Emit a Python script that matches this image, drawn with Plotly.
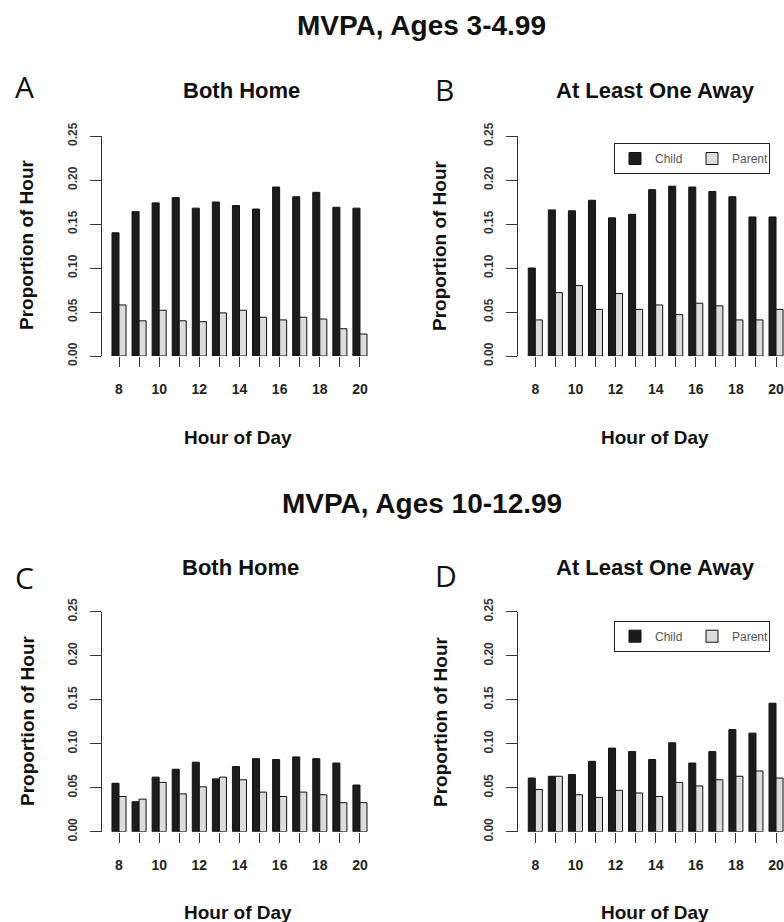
import plotly.graph_objects as go

HOURS = list(range(8, 21))
HOUR_LABELS = [str(h) if h % 2 == 0 else "" for h in HOURS]
Y_TICKS = [0.0, 0.05, 0.10, 0.15, 0.20, 0.25]

# Panel A: Ages 3-4.99, Both Home
A_CHILD = [0.140, 0.164, 0.174, 0.180, 0.168, 0.175, 0.171, 0.167, 0.192, 0.181, 0.186, 0.169, 0.168]
A_PARENT = [0.058, 0.040, 0.052, 0.040, 0.039, 0.049, 0.052, 0.044, 0.041, 0.044, 0.042, 0.031, 0.025]
# Panel B: Ages 3-4.99, At Least One Away
B_CHILD = [0.100, 0.166, 0.165, 0.177, 0.157, 0.161, 0.189, 0.193, 0.192, 0.187, 0.181, 0.158, 0.158]
B_PARENT = [0.041, 0.072, 0.080, 0.053, 0.071, 0.053, 0.058, 0.047, 0.060, 0.057, 0.041, 0.041, 0.053]
# Panel C: Ages 10-12.99, Both Home
C_CHILD = [0.055, 0.034, 0.062, 0.071, 0.079, 0.060, 0.074, 0.083, 0.082, 0.085, 0.083, 0.078, 0.053]
C_PARENT = [0.040, 0.037, 0.056, 0.043, 0.051, 0.062, 0.059, 0.045, 0.040, 0.045, 0.042, 0.033, 0.033]
# Panel D: Ages 10-12.99, At Least One Away
D_CHILD = [0.061, 0.063, 0.065, 0.080, 0.095, 0.091, 0.082, 0.101, 0.078, 0.091, 0.116, 0.112, 0.146]
D_PARENT = [0.048, 0.063, 0.042, 0.039, 0.047, 0.044, 0.040, 0.056, 0.052, 0.059, 0.063, 0.069, 0.061]

SERIES_NAMES = ["Child", "Parent"]
ROW_TITLES = ["MVPA, Ages 3-4.99", "MVPA, Ages 10-12.99"]
PANEL_TITLES = ["Both Home", "At Least One Away", "Both Home", "At Least One Away"]
PANEL_LETTERS = ["A", "B", "C", "D"]

W, H = 784, 922
FONT = "Liberation Sans, Arial, sans-serif"
CHILD_COLOR = "#1c1c1c"
PARENT_COLOR = "#dcdcdc"

def px(x):
    return x / W

def py(y):
    return 1 - y / H

fig = go.Figure()

panels = [
    (A_CHILD, A_PARENT, "x", "y", None),
    (B_CHILD, B_PARENT, "x2", "y2", "legend"),
    (C_CHILD, C_PARENT, "x3", "y3", None),
    (D_CHILD, D_PARENT, "x4", "y4", "legend2"),
]
for child, parent, xa, ya, leg in panels:
    for vals, name, col in [(child, SERIES_NAMES[0], CHILD_COLOR), (parent, SERIES_NAMES[1], PARENT_COLOR)]:
        fig.add_trace(go.Bar(
            x=HOURS, y=vals, name=name, xaxis=xa, yaxis=ya,
            marker=dict(color=col, line=dict(color="#111111", width=1)),
            offsetgroup=name, showlegend=leg is not None,
            legend=leg if leg else "legend",
        ))

# geometry (reference pixels)
left_dom = (102, 382)
right_dom = (518, 784)
top_dom = (136, 356)
bot_dom = (611.7, 831.7)
left_range = [8 - 17 / 20.08, 8 + (382 - 119) / 20.08]
right_range = [8 - (535.3 - 518) / 20.06, 8 + (784 - 535.3) / 20.06]

def xaxis(dom, rng):
    return dict(domain=[px(dom[0]), min(1, px(dom[1]))], range=rng, showline=False, showgrid=False,
                zeroline=False, ticks="outside", ticklen=10, tickwidth=1, tickcolor="#333",
                tickvals=HOURS, ticktext=HOUR_LABELS, ticklabelstandoff=10,
                ticklabeloverflow="allow",
                tickfont=dict(family=FONT, size=14, color="#222", weight="bold"))

def yaxis(dom, anchor):
    return dict(domain=[py(dom[1]), py(dom[0])], range=[0, 0.25], showline=True, linecolor="#333",
                linewidth=1, showgrid=False, zeroline=False, ticks="outside", ticklen=11,
                tickwidth=1, tickcolor="#333", tickvals=Y_TICKS, tickformat=".2f",
                tickangle=-90, ticklabelstandoff=8, anchor=anchor,
                tickfont=dict(family=FONT, size=12, color="#333", weight="bold"))

def legend(ytop):
    return dict(x=px(614), y=py(ytop), xanchor="left", yanchor="top", orientation="h",
                bordercolor="#222", borderwidth=1, bgcolor="white", entrywidth=32,
                entrywidthmode="pixels", font=dict(family=FONT, size=12, color="#555"),
                traceorder="normal")

fig.update_layout(
    width=W, height=H, autosize=False,
    margin=dict(l=0, r=0, t=0, b=0, autoexpand=False),
    paper_bgcolor="white", plot_bgcolor="white",
    barmode="group", bargap=0.3, bargroupgap=0,
    xaxis=dict(**xaxis(left_dom, left_range), anchor="y"),
    yaxis=yaxis(top_dom, "x"),
    xaxis2=dict(**xaxis(right_dom, right_range), anchor="y2"),
    yaxis2=yaxis(top_dom, "x2"),
    xaxis3=dict(**xaxis(left_dom, left_range), anchor="y3"),
    yaxis3=yaxis(bot_dom, "x3"),
    xaxis4=dict(**xaxis(right_dom, right_range), anchor="y4"),
    yaxis4=yaxis(bot_dom, "x4"),
    legend=legend(143),
    legend2=legend(620.7),
)

ann = []
def text(x, y, t, size, bold=True, angle=0, family=FONT):
    ann.append(dict(x=px(x), y=py(y), xref="paper", yref="paper", text=f"<b>{t}</b>" if bold else t,
                    showarrow=False, xanchor="center", yanchor="middle", textangle=angle,
                    font=dict(family=family, size=size, color="#111")))

text(422, 26, ROW_TITLES[0], 28)
text(422, 504, ROW_TITLES[1], 28)
text(24, 87, PANEL_LETTERS[0], 30, bold=False, family="Open Sans, sans-serif")
text(444, 89, PANEL_LETTERS[1], 30, bold=False, family="Open Sans, sans-serif")
text(24, 577, PANEL_LETTERS[2], 30, bold=False, family="Open Sans, sans-serif")
text(446, 575, PANEL_LETTERS[3], 30, bold=False, family="Open Sans, sans-serif")
text(241, 90, PANEL_TITLES[0], 22)
text(655, 90, PANEL_TITLES[1], 22)
text(240, 567, PANEL_TITLES[2], 22)
text(655, 567, PANEL_TITLES[3], 22)
for cx, cy in [(27, 245), (440, 245), (27, 721), (440, 721)]:
    text(cx, cy, "Proportion of Hour", 19, angle=-90)
for cx, cy in [(238, 437), (655, 437), (238, 912), (655, 912)]:
    text(cx, cy, "Hour of Day", 19)

fig.update_layout(annotations=ann)
fig.write_html(
    "out.html",
    config={"displayModeBar": False},
    post_script="document.body.style.margin='0';document.body.style.overflow='hidden';",
)
